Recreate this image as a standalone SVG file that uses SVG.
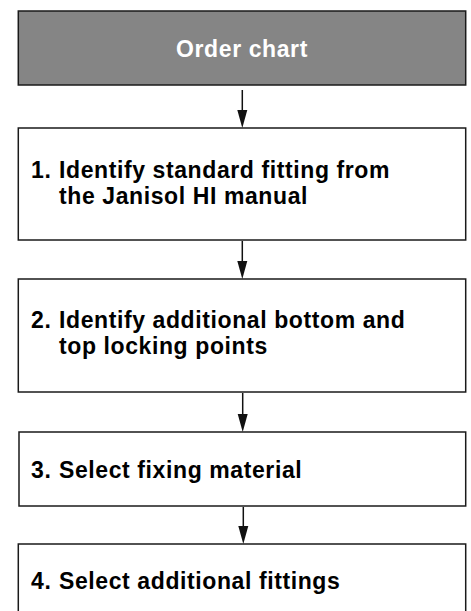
<svg xmlns="http://www.w3.org/2000/svg" width="471" height="611" viewBox="0 0 471 611">
<style>
.box{fill:#ffffff;stroke:#1a1a1a;stroke-width:1.5}
.hdr{fill:#858585;stroke:#1a1a1a;stroke-width:1.5}
.t{font-family:"Liberation Sans",Arial,sans-serif;font-weight:bold;font-size:23px;fill:#000;letter-spacing:0.6px}
.th{font-family:"Liberation Sans",Arial,sans-serif;font-weight:bold;font-size:23px;fill:#ffffff;letter-spacing:0.6px}
.ln{stroke:#111;stroke-width:1.5;fill:none}
.ah{fill:#111}
</style>
<rect width="471" height="611" fill="#ffffff"/>
<g id="connectors">
<line class="ln" x1="242.3" y1="90" x2="242.3" y2="112"/>
<polygon class="ah" points="237.3,110 247.3,110 242.3,128"/>
<line class="ln" x1="242.3" y1="241" x2="242.3" y2="263"/>
<polygon class="ah" points="237.3,261 247.3,261 242.3,279"/>
<line class="ln" x1="242.7" y1="393" x2="242.7" y2="416"/>
<polygon class="ah" points="237.7,414 247.7,414 242.7,432"/>
<line class="ln" x1="243.3" y1="507" x2="243.3" y2="528"/>
<polygon class="ah" points="238.3,526 248.3,526 243.3,544"/>
</g>
<g id="header">
<rect class="hdr" x="18.3" y="11" width="447.4" height="74"/>
<text class="th" x="242" y="57" text-anchor="middle">Order chart</text>
</g>
<g id="step1">
<rect class="box" x="18.3" y="128" width="447.4" height="112"/>
<text class="t" x="31" y="178">1.</text>
<text class="t" x="59" y="178">Identify standard fitting from</text>
<text class="t" x="59" y="204">the Janisol HI manual</text>
</g>
<g id="step2">
<rect class="box" x="18.3" y="279" width="447.4" height="113"/>
<text class="t" x="31" y="328">2.</text>
<text class="t" x="59" y="328">Identify additional bottom and</text>
<text class="t" x="59" y="354">top locking points</text>
</g>
<g id="step3">
<rect class="box" x="19" y="432" width="446.7" height="74"/>
<text class="t" x="31" y="478">3.</text>
<text class="t" x="59" y="478">Select fixing material</text>
</g>
<g id="step4">
<rect class="box" x="18.3" y="544" width="447.4" height="80"/>
<text class="t" x="31" y="589">4.</text>
<text class="t" x="59" y="589">Select additional fittings</text>
</g>
</svg>
